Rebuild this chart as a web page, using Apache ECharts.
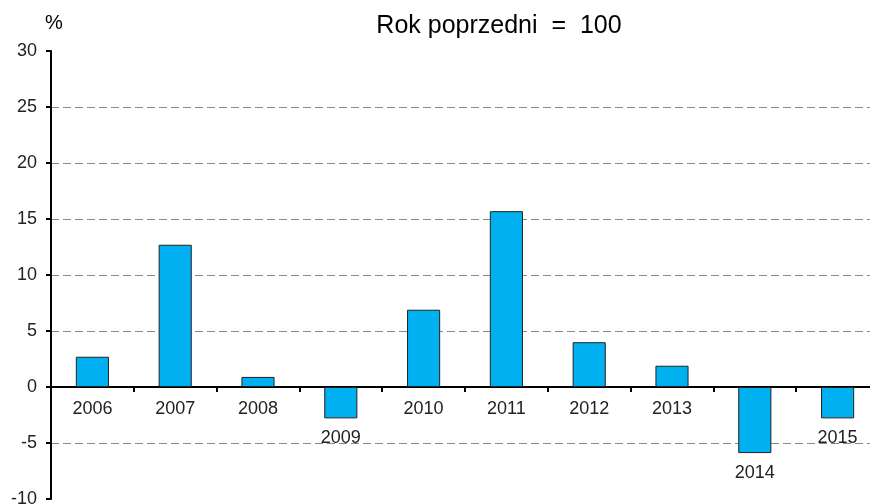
<!DOCTYPE html>
<html>
<head>
<meta charset="utf-8">
<script src="https://cdn.jsdelivr.net/npm/echarts@6/dist/echarts.min.js"></script>
<style>
  html, body { margin: 0; padding: 0; background: #fff; }
  #chart { width: 870px; height: 504px; }
</style>
</head>
<body>
<div id="chart"></div>
<script>
const years = ['2006', '2007', '2008', '2009', '2010', '2011', '2012', '2013', '2014', '2015'];
const values = [2.7, 12.7, 0.9, -2.8, 6.9, 15.7, 4.0, 1.9, -5.9, -2.8];
const yTicks = [-10, -5, 0, 5, 10, 15, 20, 25, 30];

const chart = echarts.init(document.getElementById('chart'));
const font = 'Liberation Sans, Arial, sans-serif';

// no dashed line at the two ends of the axis
const gridColors = yTicks.map((t, i) => (i === 0 || i === yTicks.length - 1) ? 'transparent' : '#888');

const option = {
  animation: false,
  textStyle: { fontFamily: font },
  title: {
    text: 'Rok poprzedni  =  100',
    left: 494,
    top: 9,
    textAlign: 'center',
    textStyle: { fontSize: 25, fontWeight: 'normal', color: '#000', fontFamily: font }
  },
  graphic: [{
    type: 'text',
    left: 45,
    top: 13,
    style: { text: '%', fontSize: 20, fill: '#000', fontFamily: font }
  }],
  grid: { left: 51, top: 51, width: 828, bottom: 5, outerBoundsMode: 'none', containLabel: false },
  xAxis: {
    type: 'category',
    data: years,
    axisLine: { lineStyle: { color: '#000', width: 2 } },
    axisTick: { show: true, length: 5, lineStyle: { color: '#000', width: 2 } },
    axisLabel: { show: false },
    splitLine: { show: false }
  },
  yAxis: {
    type: 'value',
    min: -10,
    max: 30,
    interval: 5,
    axisLine: { show: true, lineStyle: { color: '#000', width: 2 } },
    axisTick: { show: true, length: 5, lineStyle: { color: '#000', width: 2 } },
    axisLabel: { fontSize: 18, color: '#222', margin: 14, fontFamily: font },
    splitLine: { show: true, lineStyle: { color: gridColors, type: [8, 4], width: 1 } }
  },
  series: [{
    type: 'bar',
    barWidth: '40%',
    data: values.map(v => ({
      value: v,
      label: { distance: v >= 0 ? 13 : 11 }
    })),
    itemStyle: { color: '#00B0F0', borderColor: '#222', borderWidth: 1 },
    label: {
      show: true,
      position: 'bottom',
      fontSize: 18,
      color: '#222',
      fontFamily: font,
      formatter: p => p.name
    }
  }]
};
chart.setOption(option);
</script>
</body>
</html>
